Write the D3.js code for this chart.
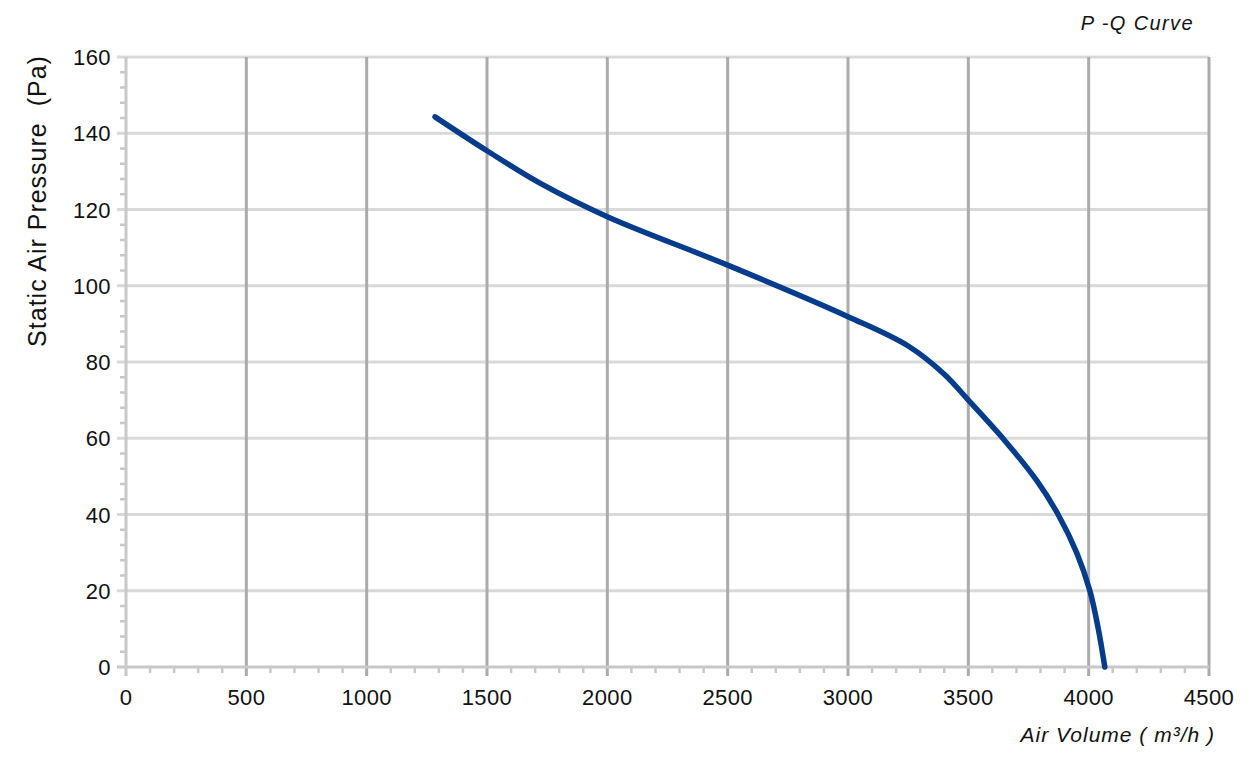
<!DOCTYPE html>
<html><head><meta charset="utf-8">
<script src="https://cdn.jsdelivr.net/npm/d3@7"></script>
<style>html,body{margin:0;padding:0;background:#fff;}svg{display:block;}</style>
</head><body>
<script>
const airVolume = [1284, 1500, 1720, 2000, 2500, 3000, 3250, 3400, 3500, 3650, 3783, 3873, 3950, 4005, 4040, 4067];
const pressure  = [144.3, 135.4, 126.9, 118.1, 105.4, 91.9, 84.2, 76.8, 70, 59.5, 49, 40, 30, 20, 10, 0];
const xTicks = [0, 500, 1000, 1500, 2000, 2500, 3000, 3500, 4000, 4500];
const yTicks = [0, 20, 40, 60, 80, 100, 120, 140, 160];
const title = "P -Q Curve";
const xTitle = "Air Volume ( m³/h )";
const yTitle = "Static Air Pressure  (Pa)";

const W = 1252, H = 764;
const m = {left: 126, right: W - 1209, top: 57, bottom: H - 667};
const svg = d3.select("body").append("svg").attr("width", W).attr("height", H);
const font = "'Liberation Sans', Arial, sans-serif";

const x = d3.scaleLinear().domain([0, 4500]).range([m.left, W - m.right]);
const y = d3.scaleLinear().domain([0, 160]).range([H - m.bottom, m.top]);

// horizontal gridlines
svg.append("g").selectAll("line").data(yTicks.filter(d => d > 0)).join("line")
  .attr("x1", x(0) - 9).attr("x2", x(4500)).attr("y1", d => y(d)).attr("y2", d => y(d))
  .attr("stroke", "#d9d9d9").attr("stroke-width", 3);
// vertical gridlines
svg.append("g").selectAll("line").data(xTicks.filter(d => d > 0)).join("line")
  .attr("x1", d => x(d)).attr("x2", d => x(d)).attr("y1", y(160)).attr("y2", y(0) + 9)
  .attr("stroke", "#ababab").attr("stroke-width", 3);

// minor ticks y
const yMinor = d3.range(0, 160.001, 4).filter(d => d % 20 !== 0);
svg.append("g").selectAll("line").data(yMinor).join("line")
  .attr("x1", x(0) - 6).attr("x2", x(0)).attr("y1", d => y(d)).attr("y2", d => y(d))
  .attr("stroke", "#c8c8c8").attr("stroke-width", 2.5);
// minor ticks x
const xMinor = d3.range(0, 4500.001, 100).filter(d => d % 500 !== 0);
svg.append("g").selectAll("line").data(xMinor).join("line")
  .attr("x1", d => x(d)).attr("x2", d => x(d)).attr("y1", y(0)).attr("y2", y(0) + 6)
  .attr("stroke", "#c8c8c8").attr("stroke-width", 2.5);

// axes lines
svg.append("line").attr("x1", x(0)).attr("x2", x(0)).attr("y1", y(160)).attr("y2", y(0) + 9)
  .attr("stroke", "#c8c8c8").attr("stroke-width", 3);
svg.append("line").attr("x1", x(0) - 9).attr("x2", x(4500)).attr("y1", y(0)).attr("y2", y(0))
  .attr("stroke", "#c8c8c8").attr("stroke-width", 3);

// tick labels
svg.append("g").selectAll("text").data(xTicks).join("text")
  .attr("x", d => x(d)).attr("y", 705).attr("text-anchor", "middle")
  .attr("font-family", font).attr("font-size", 22).attr("letter-spacing", 0.4).attr("fill", "#111").text(d => d);
svg.append("g").selectAll("text").data(yTicks).join("text")
  .attr("x", 111).attr("y", d => y(d) + 8).attr("text-anchor", "end")
  .attr("font-family", font).attr("font-size", 22).attr("letter-spacing", 0.4).attr("fill", "#111").text(d => d);

// curve
const data = airVolume.map((v, i) => ({q: v, p: pressure[i]}));
svg.append("path").datum(data)
  .attr("d", d3.line().x(d => x(d.q)).y(d => y(d.p)).curve(d3.curveCatmullRom.alpha(0.5)))
  .attr("fill", "none").attr("stroke", "#063c8c").attr("stroke-width", 5.5)
  .attr("stroke-linecap", "round").attr("stroke-linejoin", "round");

// titles
svg.append("text").attr("x", 1194).attr("y", 30).attr("text-anchor", "end")
  .attr("font-family", font).attr("font-size", 20).attr("letter-spacing", 1.4).attr("font-style", "italic").attr("fill", "#111").text(title);
svg.append("text").attr("x", 1215).attr("y", 742).attr("text-anchor", "end")
  .attr("font-family", font).attr("font-size", 21).attr("letter-spacing", 1).attr("font-style", "italic").attr("fill", "#111").text(xTitle);
svg.append("text").attr("transform", "translate(46,201) rotate(-90)").attr("text-anchor", "middle")
  .attr("font-family", font).attr("font-size", 25).attr("letter-spacing", 1).attr("fill", "#111").style("white-space", "pre").text(yTitle);
</script>
</body></html>
